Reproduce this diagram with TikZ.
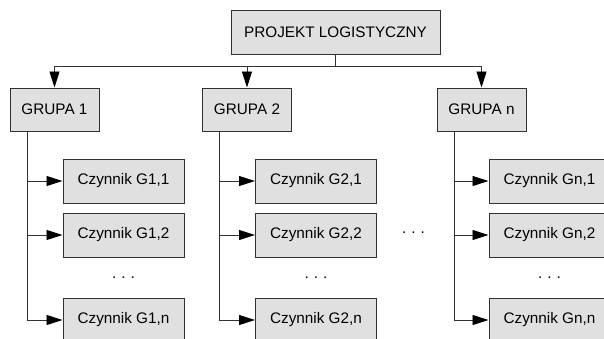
\documentclass[tikz,border=0pt]{standalone}
\usepackage{fontspec}
\setmainfont{Liberation Sans}
\usetikzlibrary{arrows.meta}
\definecolor{boxfill}{RGB}{224,224,224}
\definecolor{lin}{RGB}{50,50,50}
\begin{document}
\begin{tikzpicture}[x=1pt,y=-1pt,
  every node/.style={font=\fontsize{15.3}{18}\selectfont, text=black},
  boxstyle/.style={draw=lin, line width=1pt, fill=boxfill, inner sep=0pt},
  topbox/.style={boxstyle, minimum width=209pt, minimum height=44pt},
  grpbox/.style={boxstyle, minimum width=89pt, minimum height=43pt},
  facbox/.style={boxstyle, minimum width=121pt, minimum height=44pt},
  conn/.style={draw=lin, line width=0.9pt},
  arr/.style={conn, -{Triangle[length=16pt,width=10pt,color=black]}},
  dotsnode/.style={inner sep=0pt}]
\useasboundingbox (0,0) rectangle (604,338);
\clip (0,0) rectangle (604,338);
\fill[white] (0,0) rectangle (604,338);

\node[topbox] (top) at (335.5,32.5) {PROJEKT LOGISTYCZNY};
\node[grpbox] (g1) at (54.5,109.5) {GRUPA 1};
\node[grpbox] (g2) at (247,109.5) {GRUPA 2};
\node[grpbox] (gn) at (481.5,109.5) {GRUPA n};

\node[facbox] (c11) at (123.5,181) {Czynnik G1,1};
\node[facbox] (c12) at (123.5,235) {Czynnik G1,2};
\node[facbox] (c1n) at (123.5,320) {Czynnik G1,n};
\node[facbox] (c21) at (316,181) {Czynnik G2,1};
\node[facbox] (c22) at (316,235) {Czynnik G2,2};
\node[facbox] (c2n) at (316,320) {Czynnik G2,n};
\node[facbox] (cn1) at (549.5,181) {Czynnik Gn,1};
\node[facbox] (cn2) at (549.5,235) {Czynnik Gn,2};
\node[facbox] (cnn) at (549.5,320) {Czynnik Gn,n};

\node[dotsnode] (d1) at (123.5,278) {.\,\,.\,\,.};
\node[dotsnode] (d2) at (316,278) {.\,\,.\,\,.};
\node[dotsnode] (dn) at (549.5,278) {.\,\,.\,\,.};
\node[dotsnode] (dm) at (413.5,233) {.\,\,.\,\,.};

\coordinate (bus1) at (54.5,66);
\coordinate (busn) at (481.5,66);
\draw[conn] (top.south) -- (top.south |- bus1);
\draw[conn] (bus1) -- (busn);
\draw[arr] (bus1) -- (g1.north);
\draw[arr] (g2.north |- bus1) -- (g2.north);
\draw[arr] (busn) -- (gn.north);

\coordinate (v1) at (27,131);
\coordinate (v2) at (219,131);
\coordinate (vn) at (454,131);
\draw[arr] (v1) |- (c1n.west);
\draw[arr] (v1 |- c11.west) -- (c11.west);
\draw[arr] (v1 |- c12.west) -- (c12.west);
\draw[arr] (v2) |- (c2n.west);
\draw[arr] (v2 |- c21.west) -- (c21.west);
\draw[arr] (v2 |- c22.west) -- (c22.west);
\draw[arr] (vn) |- (cnn.west);
\draw[arr] (vn |- cn1.west) -- (cn1.west);
\draw[arr] (vn |- cn2.west) -- (cn2.west);
\end{tikzpicture}
\end{document}
